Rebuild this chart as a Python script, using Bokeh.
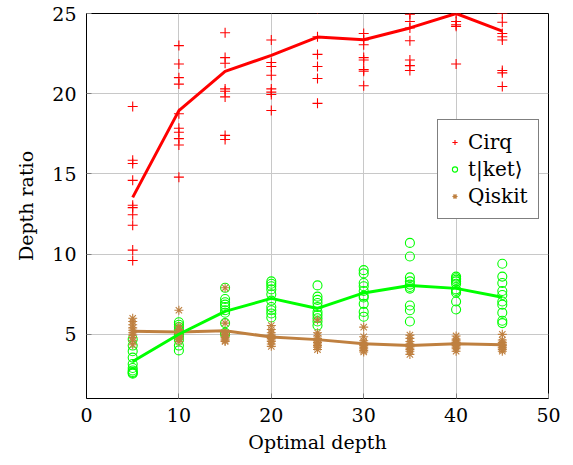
import numpy as np
from bokeh.plotting import figure
from bokeh.models import Range1d, FixedTicker, Legend, LegendItem
from bokeh.embed import file_html
from bokeh.resources import INLINE

# Optimal circuit depths that were benchmarked
depths = [5, 10, 15, 20, 25, 30, 35, 40, 45]

# Depth ratio of each compiled circuit (10 circuits per optimal depth)
cirq = [
    [19.2, 15.85, 15.65, 14.6, 13.05, 12.9, 12.45, 11.8, 10.25, 9.6],
    [23.0, 21.85, 21.0, 20.6, 18.75, 17.85, 17.6, 17.2, 16.8, 14.8],
    [25.4, 25.75, 23.8, 22.25, 21.9, 20.3, 20.15, 19.8, 17.4, 17.15],
    [28.0, 28.45, 23.35, 21.95, 21.7, 21.15, 20.3, 20.1, 19.95, 18.95],
    [25.3, 25.45, 25.5, 25.4, 25.6, 23.55, 22.45, 21.7, 20.95, 19.4],
    [27.5, 28.2, 23.75, 23.35, 23.05, 22.25, 22.1, 21.5, 21.4, 20.5],
    [26.4, 27.35, 25.1, 24.95, 24.5, 24.1, 23.3, 22.1, 21.75, 21.45],
    [25.6, 25.9, 26.1, 26.2, 26.35, 25.0, 24.5, 24.3, 24.2, 21.85],
    [27.3, 28.4, 25.0, 24.45, 23.75, 23.55, 23.35, 21.45, 21.3, 20.45],
]

tket = [
    [4.7, 4.3, 3.95, 3.55, 3.15, 2.9, 2.75, 2.65, 2.6, 2.55],
    [5.75, 5.6, 5.45, 5.3, 5.15, 5.0, 4.85, 4.65, 4.3, 4.0],
    [7.9, 7.2, 7.0, 6.85, 6.7, 6.5, 6.35, 5.7, 5.1, 5.0],
    [8.3, 8.15, 8.0, 7.8, 7.5, 7.1, 6.7, 6.5, 6.3, 6.05],
    [8.05, 7.35, 7.15, 6.95, 6.7, 6.4, 6.2, 6.0, 5.8, 5.55],
    [9.0, 8.8, 8.2, 8.0, 7.7, 7.4, 7.3, 6.9, 6.4, 6.1],
    [10.7, 9.85, 8.55, 8.3, 8.1, 7.95, 7.85, 6.8, 6.5, 5.8],
    [8.6, 8.5, 8.4, 8.3, 8.15, 7.8, 7.7, 7.6, 7.05, 6.55],
    [9.4, 8.6, 8.2, 7.7, 7.45, 7.05, 6.85, 6.35, 5.85, 5.7],
]

qiskit = [
    [6.0, 5.8, 5.6, 5.4, 5.25, 5.1, 4.95, 4.8, 4.6, 4.35],
    [6.5, 5.5, 5.3, 5.15, 5.05, 4.95, 4.9, 4.8, 4.7, 4.55],
    [7.9, 5.7, 5.1, 5.0, 5.0, 4.9, 4.8, 4.7, 4.6, 4.55],
    [5.55, 5.3, 5.1, 4.95, 4.85, 4.75, 4.65, 4.55, 4.4, 4.25],
    [5.9, 5.1, 4.9, 4.75, 4.6, 4.5, 4.4, 4.3, 4.2, 4.05],
    [5.45, 4.85, 4.6, 4.45, 4.35, 4.3, 4.2, 4.1, 4.0, 3.9],
    [4.95, 4.75, 4.55, 4.4, 4.3, 4.25, 4.15, 4.05, 3.95, 3.75],
    [4.9, 4.7, 4.6, 4.5, 4.45, 4.4, 4.3, 4.2, 4.1, 3.95],
    [5.0, 4.65, 4.5, 4.4, 4.35, 4.3, 4.2, 4.15, 4.05, 3.95],
]

x_ticks = [0, 10, 20, 30, 40, 50]
y_ticks = [5, 10, 15, 20, 25]

FONT = "DejaVu Serif"
RED, GREEN, BROWN = "#ff0000", "#00ff00", "#bf8040"


def flatten(groups):
    xs, ys = [], []
    for d, vals in zip(depths, groups):
        xs.extend([d] * len(vals))
        ys.extend(vals)
    return xs, ys


def means(groups):
    return [float(np.mean(v)) for v in groups]


p = figure(
    width=573, height=465,
    x_range=Range1d(0, 50), y_range=Range1d(1, 25),
    output_backend="svg", toolbar_location=None,
    min_border_left=86, min_border_right=25,
    min_border_top=13, min_border_bottom=67,
)
p.background_fill_color = "white"
p.border_fill_color = "white"
p.outline_line_color = "black"
p.outline_line_width = 1

p.xaxis.ticker = FixedTicker(ticks=x_ticks)
p.yaxis.ticker = FixedTicker(ticks=y_ticks)
p.xaxis.axis_label = "Optimal depth"
p.yaxis.axis_label = "Depth ratio"

for ax in (p.xaxis[0], p.yaxis[0]):
    ax.axis_line_color = "black"
    ax.major_tick_in = 5
    ax.major_tick_out = 0
    ax.major_tick_line_color = "#808080"
    ax.minor_tick_line_color = None
    ax.major_label_text_font = FONT
    ax.major_label_text_font_size = "19px"
    ax.major_label_text_color = "black"
    ax.axis_label_text_font = FONT
    ax.axis_label_text_font_size = "19px"
    ax.axis_label_text_font_style = "normal"
    ax.axis_label_text_color = "black"

p.xaxis.major_label_standoff = 9
p.xaxis.axis_label_standoff = 6
p.yaxis.major_label_standoff = 10
p.yaxis.axis_label_standoff = 12

p.xgrid.grid_line_color = "#c8c8c8"
p.ygrid.grid_line_color = "#c8c8c8"
p.xgrid.grid_line_width = 1
p.ygrid.grid_line_width = 1

cx, cy = flatten(cirq)
tx, ty = flatten(tket)
qx, qy = flatten(qiskit)

r_c = p.scatter(cx, cy, marker="cross", size=10, line_color=RED, line_width=1.1)
r_t = p.scatter(tx, ty, marker="circle", size=9, fill_color=None,
                line_color=GREEN, line_width=1.1)
r_q = p.scatter(qx, qy, marker="asterisk", size=9, line_color=BROWN, line_width=1.1)

p.line(depths, means(cirq), line_color=RED, line_width=3)
p.line(depths, means(qiskit), line_color=BROWN, line_width=3)
p.line(depths, means(tket), line_color=GREEN, line_width=3)

legend = Legend(
    items=[
        LegendItem(label="Cirq", renderers=[r_c]),
        LegendItem(label="t|ket⟩", renderers=[r_t]),
        LegendItem(label="Qiskit", renderers=[r_q]),
    ],
    location=(351, 179),
)
legend.label_text_font = FONT
legend.label_text_font_size = "20px"
legend.label_text_color = "black"
legend.border_line_color = "black"
legend.border_line_width = 1
legend.background_fill_alpha = 1
legend.padding = 10
legend.spacing = 3
legend.margin = 0
legend.glyph_width = 13
legend.glyph_height = 24
legend.label_height = 24
legend.label_standoff = 7
p.add_layout(legend)

with open("out.html", "w") as f:
    f.write(file_html(p, INLINE))
